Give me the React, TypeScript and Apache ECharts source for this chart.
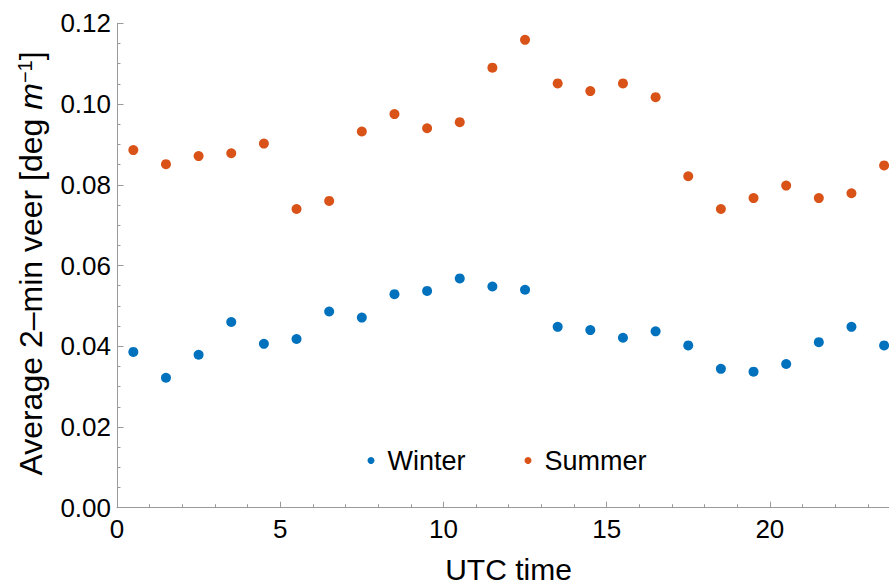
import React, { useEffect, useRef } from "react";
import * as echarts from "echarts";

const hours = [0.5, 1.5, 2.5, 3.5, 4.5, 5.5, 6.5, 7.5, 8.5, 9.5, 10.5, 11.5, 12.5, 13.5, 14.5, 15.5, 16.5, 17.5, 18.5, 19.5, 20.5, 21.5, 22.5, 23.5];
const winter = [0.0386, 0.0322, 0.0379, 0.046, 0.0406, 0.0418, 0.0486, 0.0471, 0.0529, 0.0537, 0.0568, 0.0548, 0.054, 0.0448, 0.044, 0.0421, 0.0437, 0.0402, 0.0344, 0.0337, 0.0356, 0.041, 0.0448, 0.0402];
const summer = [0.0886, 0.0851, 0.0871, 0.0878, 0.0902, 0.074, 0.076, 0.0932, 0.0975, 0.094, 0.0955, 0.109, 0.1159, 0.1051, 0.1032, 0.1051, 0.1017, 0.0821, 0.074, 0.0767, 0.0798, 0.0767, 0.0779, 0.0848];
const seriesNames = ["Winter", "Summer"];
const xTitle = "UTC time";

const FONT = "'Liberation Sans', Arial, sans-serif";
const AXIS = "#9a9a9a";

export default function App() {
  const ref = useRef<HTMLDivElement>(null);
  useEffect(() => {
    if (!ref.current) return;
    const chart = echarts.init(ref.current, undefined, { renderer: "svg" });
    chart.setOption({
      animation: false,
      backgroundColor: "#ffffff",
      textStyle: { fontFamily: FONT },
      grid: { left: 117, right: 0, top: 23.3, bottom: 78.3 },
      legend: {
        left: 362.5,
        top: 442,
        itemWidth: 7,
        itemHeight: 7,
        itemGap: 59,
        icon: "circle",
        textStyle: { fontSize: 27, color: "#000", fontFamily: FONT, padding: [0, 0, 0, 8] },
        data: seriesNames,
      },
      xAxis: {
        type: "value",
        min: 0,
        max: 23.65,
        interval: 5,
        axisLine: { show: true, lineStyle: { color: AXIS, width: 1 } },
        axisTick: { show: true, inside: true, length: 6, lineStyle: { color: AXIS } },
        minorTick: { show: true, splitNumber: 5, length: 3.5, lineStyle: { color: AXIS } },
        splitLine: { show: false },
        axisLabel: { fontSize: 26, color: "#000", margin: 8, showMaxLabel: false, fontFamily: FONT },
      },
      yAxis: {
        type: "value",
        min: 0,
        max: 0.12,
        interval: 0.02,
        axisLine: { show: true, lineStyle: { color: AXIS, width: 1 } },
        axisTick: { show: true, inside: true, length: 6.5, lineStyle: { color: AXIS } },
        minorTick: { show: true, splitNumber: 4, length: 3.5, lineStyle: { color: AXIS } },
        splitLine: { show: false },
        axisLabel: {
          fontSize: 26,
          color: "#000",
          margin: 6,
          fontFamily: FONT,
          formatter: (v: number) => v.toFixed(2),
        },
      },
      graphic: [
        {
          type: "text",
          x: 508.5,
          y: 569,
          style: {
            text: xTitle,
            fontSize: 30,
            fontFamily: FONT,
            fill: "#000",
            align: "center",
            verticalAlign: "middle",
          },
        },
        {
          type: "text",
          x: 31,
          y: 263.5,
          rotation: Math.PI / 2,
          style: {
            text: "{a|Average 2\u2013min veer [deg }{i|m}{s|\u22121}{a|]}",
            align: "center",
            verticalAlign: "middle",
            fill: "#000",
            rich: {
              a: { fontSize: 32, fontFamily: FONT, lineHeight: 32, fill: "#000" },
              i: { fontSize: 32, fontFamily: FONT, fontStyle: "italic", lineHeight: 32, fill: "#000" },
              s: { fontSize: 20, fontFamily: FONT, lineHeight: 16, verticalAlign: "top", fill: "#000" },
            },
          },
        },
      ],
      series: [
        {
          name: seriesNames[0],
          type: "scatter",
          symbol: "circle",
          symbolSize: 10,
          itemStyle: { color: "#0072BD", opacity: 1 },
          data: hours.map((h, i) => [h, winter[i]]),
        },
        {
          name: seriesNames[1],
          type: "scatter",
          symbol: "circle",
          symbolSize: 10,
          itemStyle: { color: "#D95319", opacity: 1 },
          data: hours.map((h, i) => [h, summer[i]]),
        },
      ],
    });
    return () => chart.dispose();
  }, []);
  return (
    <div
      ref={ref}
      style={{ position: "fixed", left: 0, top: 0, width: 889, height: 586, background: "#fff" }}
    />
  );
}
